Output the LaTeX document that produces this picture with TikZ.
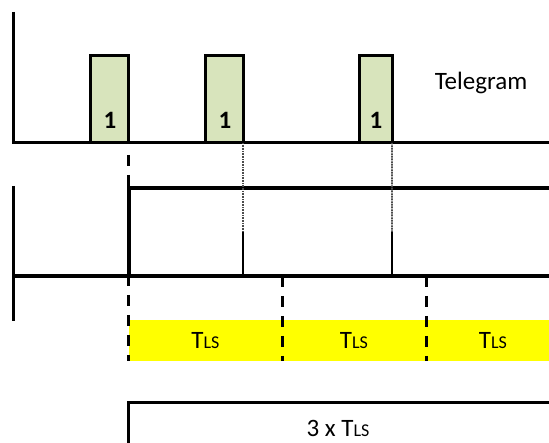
\documentclass[tikz,border=0pt]{standalone}
\usepackage{fontspec}
\setmainfont{Carlito}
\definecolor{pulsegreen}{HTML}{D8E4BC}
\definecolor{bandyellow}{HTML}{FFFF00}
\newcommand\tlsname{T{\fontsize{18}{20}\selectfont LS}}
\begin{document}
\begin{tikzpicture}[x=1pt,y=-1pt,
  font=\fontsize{25}{29}\selectfont,
  axisline/.style={line width=3pt, line join=miter},
  pulse/.style={draw, line width=3pt, fill=pulsegreen, minimum width=37.4pt, minimum height=87.7pt, inner sep=0pt, outer sep=0pt, anchor=south west},
  onelabel/.style={font=\fontsize{25}{29}\selectfont\bfseries, anchor=base, inner sep=0pt},
  dotline/.style={line width=1.6pt, black!70, dash pattern=on 1pt off 0.6pt},
  thinline/.style={line width=1.5pt},
  stepline/.style={line width=4pt, line join=miter},
  baseline2/.style={line width=3.7pt},
  dashline/.style={line width=3pt, dash pattern=on 11pt off 9pt},
  band/.style={fill=bandyellow, minimum height=41pt, inner sep=0pt, outer sep=0pt, anchor=north west},
  bracket/.style={line width=3pt, line join=miter},
  plain/.style={inner sep=0pt}
]
\useasboundingbox (0,0) rectangle (549,443);

% ---- top chart: telegram
\coordinate (ta) at (13.7,12);
\coordinate (to) at (13.7,143);
\coordinate (te) at (549,143);
\node[pulse] (p1) at (90.8,143) {};
\node[pulse] (p2) at (205.8,143) {};
\node[pulse, minimum width=32.2pt] (p3) at (359.8,143) {};
\draw[axisline] (ta) -- (to) -- (te);
\node[onelabel] (l1) at (110,129) {1};
\node[onelabel] (l2) at (225,129) {1};
\node[onelabel] (l3) at (376,129) {1};
\node[plain, anchor=base] (tg) at (481,90) {Telegram};

% ---- second chart
\coordinate (sa) at (13.7,186);
\coordinate (sb) at (13.7,321);
\coordinate (bl) at (13.7,275.8);
\coordinate (br) at (549,275.8);
\coordinate (s0) at (128.7,275.8);
\coordinate (s1) at (128.7,188);
\coordinate (s2) at (549,188);
\coordinate (d2) at (243.2,232);
\coordinate (d2b) at (243.2,275.8);
\coordinate (d3) at (392,232);
\coordinate (d3b) at (392,275.8);

% ---- yellow bands
\node[band, minimum width=154pt] (t1) at (128.5,320) {\tlsname};
\node[band, minimum width=144pt] (t2) at (282,320) {\tlsname};
\node[band, minimum width=134pt] (t3) at (426,320) {\tlsname};

% ---- dashed markers
\coordinate (m1a) at (128.5,155);
\coordinate (m1b) at (128.5,361);
\coordinate (m2a) at (282,276);
\coordinate (m2b) at (282,361);
\coordinate (m3a) at (426,276);
\coordinate (m3b) at (426,361);
\draw[dashline] (m1a) -- (m1b);
\draw[dashline] (m2a) -- (m2b);
\draw[dashline] (m3a) -- (m3b);

\draw[axisline] (sa) -- (sb);
\draw[baseline2] (bl) -- (br);
\draw[stepline] (s0) -- (s1) -- (s2);
\draw[dotline] (p2.south east) -- (d2);
\draw[thinline] (d2) -- (d2b);
\draw[dotline] (p3.south east) -- (d3);
\draw[thinline] (d3) -- (d3b);

% ---- bottom bracket
\coordinate (b0) at (128.7,445);
\coordinate (b1) at (128.7,403);
\coordinate (b2) at (549,403);
\draw[bracket] (b0) -- (b1) -- (b2);
\node[plain, anchor=base] (tot) at (338,437) {3 x \tlsname};
\end{tikzpicture}
\end{document}
